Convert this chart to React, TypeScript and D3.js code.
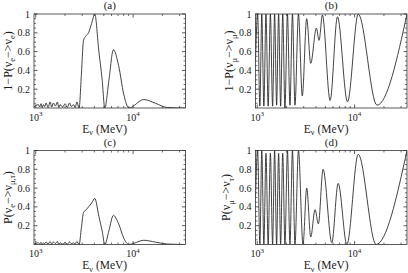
import React from "react";
import * as d3 from "d3";

// axis setup shared by all four panels
const energyDomain = [960, 34500];
const probDomain = [0, 1];
const xMajorTicks = [1000, 10000];
const xMajorExponents = ["3", "4"];
const xMinorTicks = [2000, 3000, 4000, 5000, 6000, 7000, 8000, 9000, 20000, 30000];
const yMajorTicks = [0.2, 0.4, 0.6, 0.8, 1];
const yMajorLabels = ["0.2", "0.4", "0.6", "0.8", "1"];
const yMinorTicks = [0.05, 0.1, 0.15, 0.25, 0.3, 0.35, 0.45, 0.5, 0.55, 0.65, 0.7, 0.75, 0.85, 0.9, 0.95];

// (a) 1 - P(nu_e -> nu_e)
const energyA = [960, 1064, 1098, 1134, 1166, 1198, 1237, 1277, 1339, 1404, 1460, 1518, 1592, 1670, 1725, 1781, 1890, 2005, 2110, 2220, 2328, 2441, 2541, 2646, 2790, 2944, 3095, 3300, 3485, 3750, 4040, 4450, 4800, 5120, 5650, 6270, 7100, 8000, 9055, 12860, 17000, 22420, 34500];
const probA = [0.01, 0.036, 0.01, 0.046, 0.005, 0.036, 0.015, 0.054, 0.005, 0.064, 0.01, 0.054, 0.02, 0.064, 0.005, 0.036, 0.01, 0.046, 0.005, 0.054, 0.015, 0.036, 0.005, 0.064, 0, 0.36, 0.72, 0.77, 0.8, 0.9, 1.0, 0.6, 0.31, 0, 0.3, 0.62, 0.45, 0.15, 0, 0.09, 0.05, 0.005, 0];

// (b) 1 - P(nu_mu -> nu_mu)
const energyB = [960, 1010, 1064, 1114, 1170, 1229, 1295, 1365, 1438, 1508, 1581, 1658, 1739, 1827, 1926, 2043, 2168, 2300, 2441, 2650, 2902, 3220, 3543, 4047, 4315, 4667, 5602, 6663, 8450, 10890, 16980, 34500];
const probB = [0.5, 1, 0.02, 1, 0.02, 1, 0.02, 1, 0.02, 1, 0.03, 1, 0.02, 1, 0, 1, 0.03, 1, 0.03, 1, 0.13, 0.95, 0.475, 0.85, 0.72, 0.99, 0.08, 0.97, 0.065, 1.0, 0.03, 1.0];

// (c) P(nu_e -> nu_mu,tau)
const energyC = [960, 1064, 1098, 1134, 1166, 1198, 1237, 1277, 1339, 1404, 1460, 1518, 1592, 1670, 1725, 1781, 1890, 2005, 2110, 2220, 2328, 2441, 2541, 2646, 2790, 2944, 3095, 3300, 3485, 3750, 4040, 4450, 4800, 5120, 5650, 6270, 7100, 8000, 9055, 12860, 17000, 22420, 34500];
const probC = [0.005, 0.018, 0.005, 0.023, 0.003, 0.018, 0.008, 0.027, 0.003, 0.032, 0.005, 0.027, 0.01, 0.032, 0.003, 0.018, 0.005, 0.023, 0.003, 0.027, 0.008, 0.018, 0.003, 0.032, 0, 0.18, 0.34, 0.37, 0.4, 0.44, 0.49, 0.3, 0.15, 0, 0.15, 0.31, 0.22, 0.07, 0, 0.045, 0.025, 0.005, 0];

// (d) P(nu_mu -> nu_tau)
const energyD = [960, 1010, 1064, 1114, 1170, 1229, 1295, 1365, 1438, 1508, 1581, 1658, 1739, 1827, 1926, 2043, 2168, 2300, 2441, 2650, 2951, 3223, 3543, 3924, 4245, 4745, 5834, 6774, 8330, 10890, 16600, 34500];
const probD = [0.5, 1, 0, 1, 0, 0.97, 0, 0.97, 0, 1, 0, 0.97, 0, 0.97, 0, 1, 0, 1, 0, 1, 0, 0.6, 0.08, 0.37, 0.22, 0.8, 0.02, 0.65, 0, 0.96, 0, 1.0];

const font = "Liberation Serif";

type Sub = { t: string; sub?: boolean };

const yLabelA: Sub[] = [{ t: "1\u2212P(\u03bd" }, { t: "e", sub: true }, { t: "\u2212>\u03bd" }, { t: "e", sub: true }, { t: ")" }];
const yLabelB: Sub[] = [{ t: "1\u2212P(\u03bd" }, { t: "\u03bc", sub: true }, { t: "\u2212>\u03bd" }, { t: "\u03bc", sub: true }, { t: ")" }];
const yLabelC: Sub[] = [{ t: "P(\u03bd" }, { t: "e", sub: true }, { t: "\u2212>\u03bd" }, { t: "\u03bc,\u03c4", sub: true }, { t: ")" }];
const yLabelD: Sub[] = [{ t: "P(\u03bd" }, { t: "\u03bc", sub: true }, { t: "\u2212>\u03bd" }, { t: "\u03c4", sub: true }, { t: ")" }];
const xLabel: Sub[] = [{ t: "E" }, { t: "\u03bd", sub: true }, { t: " (MeV)" }];

function RichText({ parts, size, drop = 0.3 }: { parts: Sub[]; size: number; drop?: number }) {
  let shift = 0;
  return (
    <>
      {parts.map((p, i) => {
        const target = p.sub ? size * drop : 0;
        const dy = target - shift;
        shift = target;
        return (
          <tspan key={i} dy={dy} fontSize={p.sub ? size * 0.7 : size}>
            {p.t}
          </tspan>
        );
      })}
    </>
  );
}

interface PanelProps {
  id: string;
  left: number;
  top: number;
  width: number;
  height: number;
  title: string;
  yLabel: Sub[];
  yLabelX: number;
  energy: number[];
  prob: number[];
}

function Panel({ id, left, top, width, height, title, yLabel, yLabelX, energy, prob }: PanelProps) {
  const x = d3.scaleLog().domain(energyDomain).range([left, left + width]);
  const y = d3.scaleLinear().domain(probDomain).range([top + height, top]);
  const line = d3
    .line<number>()
    .x((_, i) => x(energy[i]))
    .y((d) => y(d))
    .curve(d3.curveMonotoneX);
  const bottom = top + height;
  const right = left + width;
  const major = 3.5;
  const minor = 2;

  return (
    <g fontFamily={font} fill="#1a1a1a">
      <defs>
        <clipPath id={id}>
          <rect x={left} y={top} width={width} height={height} />
        </clipPath>
      </defs>
      <path d={line(prob) || ""} fill="none" stroke="#222" strokeWidth={0.85} clipPath={`url(#${id})`} />
      <rect x={left} y={top} width={width} height={height} fill="none" stroke="#333" strokeWidth={0.8} />
      {xMajorTicks.map((t) => (
        <g key={"xM" + t} stroke="#333" strokeWidth={0.8}>
          <line x1={x(t)} x2={x(t)} y1={bottom} y2={bottom - major} />
          <line x1={x(t)} x2={x(t)} y1={top} y2={top + major} />
        </g>
      ))}
      {xMinorTicks.map((t) => (
        <g key={"xm" + t} stroke="#333" strokeWidth={0.7}>
          <line x1={x(t)} x2={x(t)} y1={bottom} y2={bottom - minor} />
          <line x1={x(t)} x2={x(t)} y1={top} y2={top + minor} />
        </g>
      ))}
      {yMajorTicks.map((t) => (
        <g key={"yM" + t} stroke="#333" strokeWidth={0.8}>
          <line x1={left} x2={left + major} y1={y(t)} y2={y(t)} />
          <line x1={right} x2={right - major} y1={y(t)} y2={y(t)} />
        </g>
      ))}
      {yMinorTicks.map((t) => (
        <g key={"ym" + t} stroke="#333" strokeWidth={0.7}>
          <line x1={left} x2={left + minor} y1={y(t)} y2={y(t)} />
          <line x1={right} x2={right - minor} y1={y(t)} y2={y(t)} />
        </g>
      ))}
      {yMajorTicks.map((t, i) => (
        <text key={"yl" + t} x={left - 4} y={y(t) + 3.5} textAnchor="end" fontSize={10} fontFamily={font}>
          {yMajorLabels[i]}
        </text>
      ))}
      {xMajorTicks.map((t, i) => (
        <text key={"xl" + t} x={x(t)} y={bottom + 12.5} textAnchor="middle" fontSize={10} fontFamily={font}>
          10
          <tspan dy={-4.5} fontSize={7}>
            {xMajorExponents[i]}
          </tspan>
        </text>
      ))}
      <text x={left + width / 2 - 5} y={bottom + 24.5} textAnchor="middle" fontSize={11.5} fontFamily={font}>
        <RichText parts={xLabel} size={11.5} drop={0.25} />
      </text>
      <text x={left + width / 2} y={top - 5} textAnchor="middle" fontSize={11} fontFamily={font}>
        {title}
      </text>
      <text
        transform={`translate(${yLabelX},${top + height / 2}) rotate(-90)`}
        textAnchor="middle"
        fontSize={12}
        fontFamily={font}
      >
        <RichText parts={yLabel} size={12} />
      </text>
    </g>
  );
}

export default function App() {
  const w = 151.5;
  const h = 94;
  return (
    <svg width={408} height={273} style={{ position: "absolute", left: 0, top: 0, background: "#fff" }}>
      <Panel id="ca" left={34} top={14} width={w} height={h} title="(a)" yLabel={yLabelA} yLabelX={11.5} energy={energyA} prob={probA} />
      <Panel id="cb" left={255.5} top={14} width={w} height={h} title="(b)" yLabel={yLabelB} yLabelX={233} energy={energyB} prob={probB} />
      <Panel id="cc" left={34} top={150.5} width={w} height={h} title="(c)" yLabel={yLabelC} yLabelX={11.5} energy={energyC} prob={probC} />
      <Panel id="cd" left={255.5} top={150.5} width={w} height={h} title="(d)" yLabel={yLabelD} yLabelX={230} energy={energyD} prob={probD} />
    </svg>
  );
}
